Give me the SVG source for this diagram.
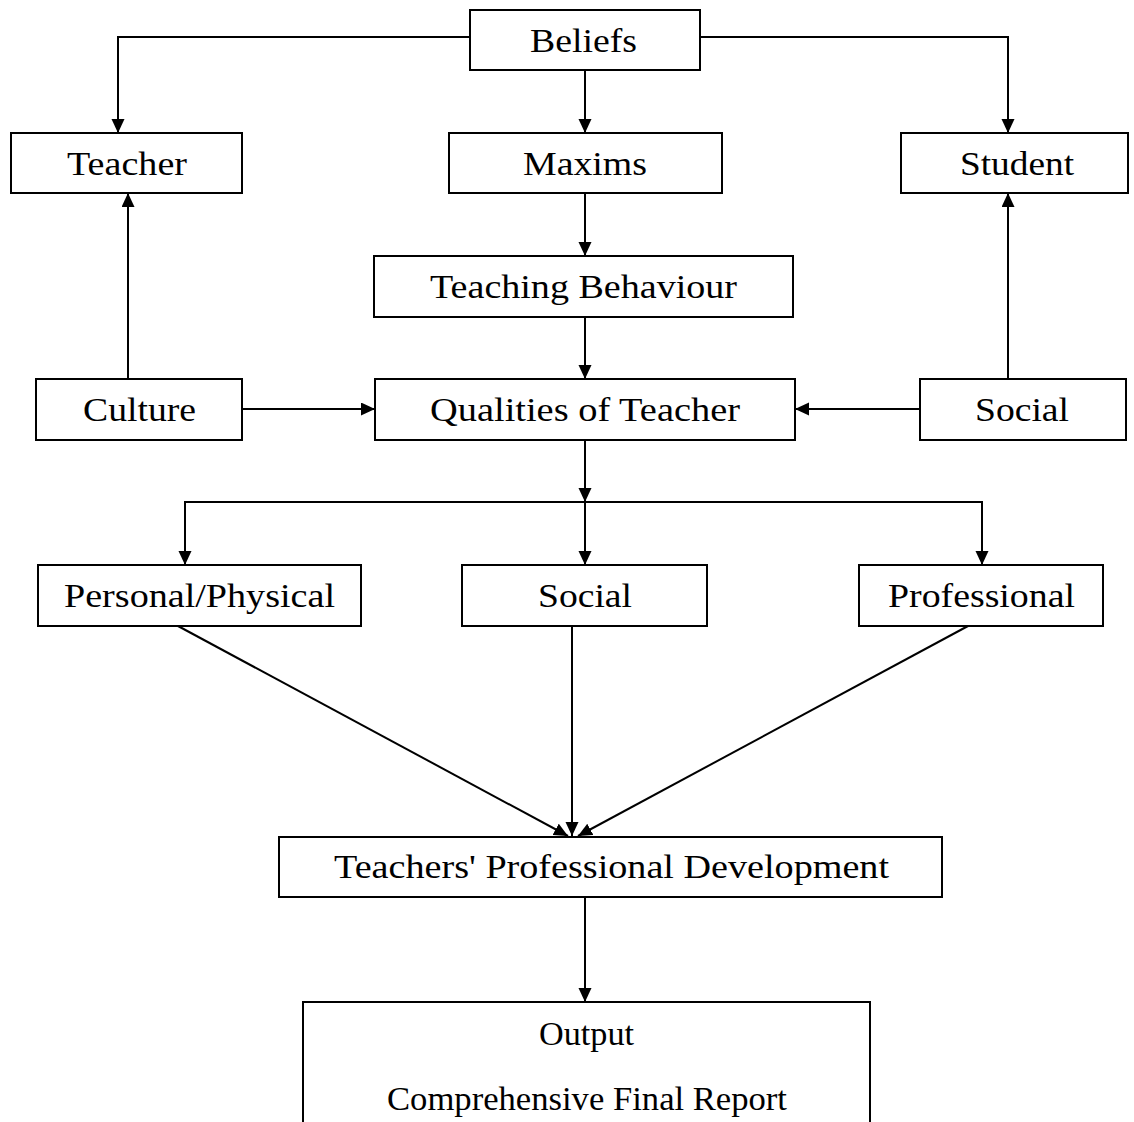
<svg xmlns="http://www.w3.org/2000/svg" width="1134" height="1122" viewBox="0 0 1134 1122">
<style>
.box{fill:#fff;stroke:#000;stroke-width:2}
.lbl{font-family:"Liberation Serif","Times New Roman",serif;font-size:33px;fill:#000;text-anchor:start}
.ln{fill:none;stroke:#000;stroke-width:2}
</style>
<defs>
<marker id="ah" markerUnits="userSpaceOnUse" markerWidth="16" markerHeight="14" refX="14" refY="6.5" orient="auto">
<path d="M0,0 L14,6.5 L0,13 Z" fill="#000"/>
</marker>
</defs>
<rect width="1134" height="1122" fill="#fff"/>
<g id="connectors">
<polyline class="ln" points="470,37 118,37 118,133" marker-end="url(#ah)"/>
<line class="ln" x1="585" y1="70" x2="585" y2="133" marker-end="url(#ah)"/>
<polyline class="ln" points="700,37 1008,37 1008,133" marker-end="url(#ah)"/>
<line class="ln" x1="128" y1="379" x2="128" y2="193" marker-end="url(#ah)"/>
<line class="ln" x1="1008" y1="379" x2="1008" y2="193" marker-end="url(#ah)"/>
<line class="ln" x1="585" y1="193" x2="585" y2="256" marker-end="url(#ah)"/>
<line class="ln" x1="585" y1="317" x2="585" y2="379" marker-end="url(#ah)"/>
<line class="ln" x1="242" y1="409" x2="375" y2="409" marker-end="url(#ah)"/>
<line class="ln" x1="920" y1="409" x2="795" y2="409" marker-end="url(#ah)"/>
<line class="ln" x1="585" y1="440" x2="585" y2="502" marker-end="url(#ah)"/>
<polyline class="ln" points="185,565 185,502 982,502 982,565"/>
<line class="ln" x1="185" y1="502" x2="185" y2="565" marker-end="url(#ah)"/>
<line class="ln" x1="585" y1="502" x2="585" y2="565" marker-end="url(#ah)"/>
<line class="ln" x1="982" y1="502" x2="982" y2="565" marker-end="url(#ah)"/>
<line class="ln" x1="178" y1="626" x2="568" y2="836" marker-end="url(#ah)"/>
<line class="ln" x1="572" y1="626" x2="572" y2="836" marker-end="url(#ah)"/>
<line class="ln" x1="968" y1="626" x2="578" y2="836" marker-end="url(#ah)"/>
<line class="ln" x1="585" y1="897" x2="585" y2="1002" marker-end="url(#ah)"/>
</g>
<g id="beliefs"><rect class="box" x="470" y="10" width="230" height="60"/><text class="lbl" x="530" y="52" textLength="107" lengthAdjust="spacingAndGlyphs">Beliefs</text></g>
<g id="teacher"><rect class="box" x="11" y="133" width="231" height="60"/><text class="lbl" x="67" y="175" textLength="120" lengthAdjust="spacingAndGlyphs">Teacher</text></g>
<g id="maxims"><rect class="box" x="449" y="133" width="273" height="60"/><text class="lbl" x="523" y="175" textLength="124" lengthAdjust="spacingAndGlyphs">Maxims</text></g>
<g id="student"><rect class="box" x="901" y="133" width="227" height="60"/><text class="lbl" x="960" y="175" textLength="114" lengthAdjust="spacingAndGlyphs">Student</text></g>
<g id="teaching-behaviour"><rect class="box" x="374" y="256" width="419" height="61"/><text class="lbl" x="430" y="298" textLength="307" lengthAdjust="spacingAndGlyphs">Teaching Behaviour</text></g>
<g id="culture"><rect class="box" x="36" y="379" width="206" height="61"/><text class="lbl" x="83" y="421" textLength="113" lengthAdjust="spacingAndGlyphs">Culture</text></g>
<g id="qualities"><rect class="box" x="375" y="379" width="420" height="61"/><text class="lbl" x="430" y="421" textLength="310" lengthAdjust="spacingAndGlyphs">Qualities of Teacher</text></g>
<g id="social-top"><rect class="box" x="920" y="379" width="206" height="61"/><text class="lbl" x="975" y="421" textLength="94" lengthAdjust="spacingAndGlyphs">Social</text></g>
<g id="personal"><rect class="box" x="38" y="565" width="323" height="61"/><text class="lbl" x="64" y="607" textLength="271" lengthAdjust="spacingAndGlyphs">Personal/Physical</text></g>
<g id="social-mid"><rect class="box" x="462" y="565" width="245" height="61"/><text class="lbl" x="538" y="607" textLength="94" lengthAdjust="spacingAndGlyphs">Social</text></g>
<g id="professional"><rect class="box" x="859" y="565" width="244" height="61"/><text class="lbl" x="888" y="607" textLength="187" lengthAdjust="spacingAndGlyphs">Professional</text></g>
<g id="tpd"><rect class="box" x="279" y="837" width="663" height="60"/><text class="lbl" x="334" y="878" textLength="555" lengthAdjust="spacingAndGlyphs">Teachers' Professional Development</text></g>
<g id="output"><rect class="box" x="303" y="1002" width="567" height="140"/><text class="lbl" x="539" y="1045" textLength="95" lengthAdjust="spacingAndGlyphs">Output</text><text class="lbl" x="387" y="1110" textLength="400" lengthAdjust="spacingAndGlyphs">Comprehensive Final Report</text></g>
</svg>
